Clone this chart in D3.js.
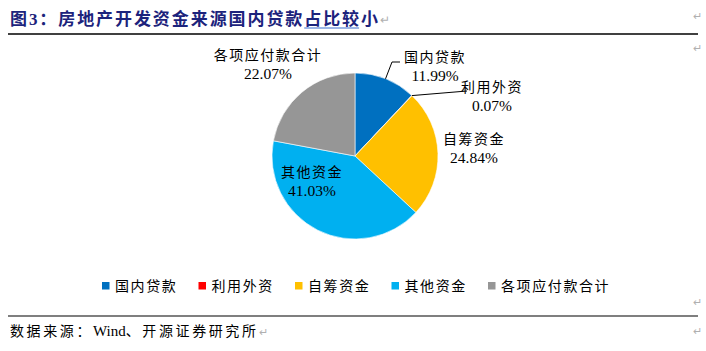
<!DOCTYPE html>
<html>
<head>
<meta charset="utf-8">
<script src="https://cdn.jsdelivr.net/npm/d3@7"></script>
<style>
  body { margin: 0; background: #fff; }
  svg text { font-family: "Liberation Serif", "Noto Sans CJK SC", serif; }
</style>
</head>
<body>
<div id="chart"></div>
<script>
// 数据
const categories = ["国内贷款", "利用外资", "自筹资金", "其他资金", "各项应付款合计"];
const values = [11.99, 0.07, 24.84, 41.03, 22.07];
const colors = ["#0070C0", "#FF0000", "#FFC000", "#00B0F0", "#969696"];

const width = 706, height = 351;
const cx = 355, cy = 156, r = 83;

const svg = d3.select("#chart").append("svg")
    .attr("width", width)
    .attr("height", height);

// 标题
const title = svg.append("text")
    .attr("x", 10)
    .attr("y", 25)
    .attr("fill", "#1c237c")
    .attr("textLength", 368)
    .attr("lengthAdjust", "spacing")
    .style("font-size", "17px")
    .style("font-weight", "bold")
    .text("图3：房地产开发资金来源国内贷款占比较小");

svg.append("text")
    .attr("x", 380).attr("y", 24)
    .attr("fill", "#b0b0b0")
    .style("font-size", "12px")
    .text("↵");

svg.append("line")
    .attr("x1", 8).attr("x2", 698)
    .attr("y1", 34).attr("y2", 34)
    .attr("stroke", "#000").attr("stroke-width", 1.5);

// 标题下划线 (占比较)
const e0 = title.node().getExtentOfChar(16);
const e1 = title.node().getExtentOfChar(18);
svg.append("line")
    .attr("x1", e0.x).attr("x2", e1.x + e1.width)
    .attr("y1", 28).attr("y2", 28)
    .attr("stroke", "#3d6fd0").attr("stroke-width", 1.2);

// 右侧段落标记
[[697, 20], [697, 52], [697, 306], [697, 335]].forEach(p => {
    svg.append("text").attr("x", p[0]).attr("y", p[1])
        .attr("text-anchor", "middle")
        .attr("fill", "#b0b0b0")
        .style("font-size", "11px")
        .text("↵");
});

const pie = d3.pie().sort(null).value(d => d)(values);
const arc = d3.arc().innerRadius(0).outerRadius(r);

const g = svg.append("g").attr("transform", `translate(${cx},${cy})`);

g.selectAll("path")
    .data(pie)
    .enter()
    .append("path")
    .attr("d", arc)
    .attr("fill", (d, i) => colors[i])
    .attr("stroke", "#fff")
    .attr("stroke-width", 0.6);

// 标签
const labelPos = [
    { x: 435, y: 62 },
    { x: 492, y: 92 },
    { x: 474, y: 144 },
    { x: 312, y: 177 },
    { x: 268, y: 60 }
];
labelPos.forEach((p, i) => {
    const t = svg.append("text")
        .attr("text-anchor", "middle")
        .attr("fill", "#000");
    t.append("tspan").attr("x", p.x).attr("y", p.y)
        .style("font-size", "14px")
        .style("letter-spacing", "1.5px")
        .text(categories[i]);
    t.append("tspan").attr("x", p.x).attr("y", p.y + 19)
        .style("font-size", "15.5px")
        .text(values[i].toFixed(2) + "%");
});

// 引导线
const a0 = d3.arc().innerRadius(r).outerRadius(r);
const c0 = a0.centroid(pie[0]);
svg.append("polyline")
    .attr("points", [[cx + c0[0], cy + c0[1]], [392, 62], [400, 62]].map(p => p.join(",")).join(" "))
    .attr("fill", "none").attr("stroke", "#000").attr("stroke-width", 1);
const c1 = a0.centroid(pie[1]);
svg.append("polyline")
    .attr("points", [[cx + c1[0], cy + c1[1]], [467, 91]].map(p => p.join(",")).join(" "))
    .attr("fill", "none").attr("stroke", "#000").attr("stroke-width", 1);

// 图例
const legendX = [102, 198.5, 295, 391.5, 488];
const legend = svg.append("g");
categories.forEach((c, i) => {
    legend.append("rect")
        .attr("x", legendX[i]).attr("y", 282)
        .attr("width", 7.5).attr("height", 7.5)
        .attr("fill", colors[i]);
    legend.append("text")
        .attr("x", legendX[i] + 13).attr("y", 291)
        .style("font-size", "14px")
        .style("letter-spacing", "1.6px")
        .text(c);
});

svg.append("line")
    .attr("x1", 8).attr("x2", 698)
    .attr("y1", 316).attr("y2", 316)
    .attr("stroke", "#000").attr("stroke-width", 1.2);

// 数据来源
const src = svg.append("text")
    .attr("x", 10).attr("y", 336)
    .style("font-size", "14px");
src.append("tspan").style("letter-spacing", "2.6px").text("数据来源：");
src.append("tspan").style("font-size", "15px").text("Wind");
src.append("tspan").style("letter-spacing", "2.6px").text("、开源证券研究所");
src.append("tspan").attr("fill", "#b0b0b0").style("font-size", "11px").text("↵");
</script>
</body>
</html>
